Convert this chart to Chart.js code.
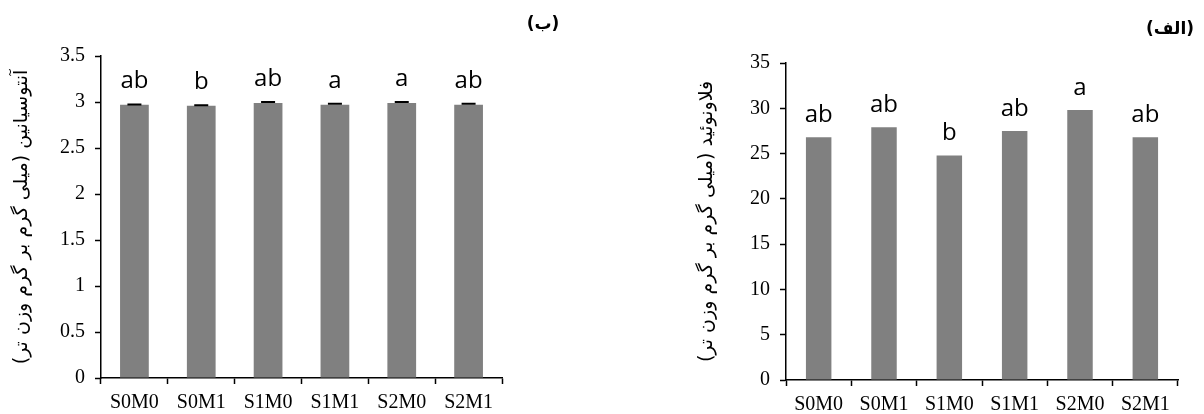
<!DOCTYPE html>
<html lang="fa">
<head>
    <meta charset="UTF-8">
    <title>Anthocyanin and flavonoid bar charts</title>
    <script src="https://cdn.jsdelivr.net/npm/chart.js"></script>
    <style>
        body { margin: 0; background: #fff; }
        .panel {
            position: absolute;
            top: 0;
            width: 602px;
            height: 414px;
        }
        #left { left: 0; }
        #right { left: 602px; }
    </style>
</head>
<body>
    <div class="panel" id="left"><canvas id="chartB"></canvas></div>
    <div class="panel" id="right"><canvas id="chartA"></canvas></div>

    <script>
        // treatments, shared by both panels
        const categories = ['S0M0', 'S0M1', 'S1M0', 'S1M1', 'S2M0', 'S2M1'];

        // panel (ب): anthocyanin
        const anthocyanin = [2.97, 2.96, 2.99, 2.97, 2.99, 2.97];
        const anthocyaninErr = [0.003, 0.005, 0.01, 0.01, 0.01, 0.01];
        const anthocyaninLetters = ['ab', 'b', 'ab', 'a', 'a', 'ab'];
        const anthocyaninTicks = [0, 0.5, 1, 1.5, 2, 2.5, 3, 3.5];

        // panel (الف): flavonoid
        const flavonoid = [26.8, 27.9, 24.8, 27.5, 29.8, 26.8];
        const flavonoidLetters = ['ab', 'ab', 'b', 'ab', 'a', 'ab'];
        const flavonoidTicks = [0, 5, 10, 15, 20, 25, 30, 35];

        const RLM = '\u200F';

        // error bars + significance letters above each bar
        const barExtras = {
            id: 'barExtras',
            afterDatasetsDraw(chart, args, opts) {
                const ctx = chart.ctx;
                const y = chart.scales.y;
                const meta = chart.getDatasetMeta(0);
                const values = chart.data.datasets[0].data;
                ctx.save();
                meta.data.forEach((bar, i) => {
                    let top = bar.y;
                    if (opts.errors) {
                        const e = opts.errors[i];
                        const yTop = y.getPixelForValue(values[i] + e);
                        ctx.strokeStyle = '#000';
                        ctx.lineWidth = 2;
                        ctx.beginPath();
                        ctx.moveTo(bar.x, bar.y);
                        ctx.lineTo(bar.x, yTop);
                        ctx.moveTo(bar.x - 7, yTop);
                        ctx.lineTo(bar.x + 7, yTop);
                        ctx.stroke();
                        top = Math.min(top, yTop);
                    }
                    ctx.fillStyle = '#000';
                    ctx.font = opts.font;
                    ctx.textAlign = 'center';
                    ctx.textBaseline = 'alphabetic';
                    ctx.fillText(opts.letters[i], bar.x, top - opts.gap);
                });
                ctx.restore();
            }
        };

        const panelLabel = {
            id: 'panelLabel',
            afterDraw(chart, args, opts) {
                const ctx = chart.ctx;
                ctx.save();
                ctx.fillStyle = '#000';
                ctx.font = 'bold 17px "DejaVu Sans"';
                ctx.textAlign = 'center';
                ctx.textBaseline = 'middle';
                ctx.fillText(opts.text, opts.x, opts.y);
                ctx.restore();
            }
        };

        function makeChart(id, cfg) {
            const ctx = document.getElementById(id).getContext('2d');
            return new Chart(ctx, {
                type: 'bar',
                data: {
                    labels: categories,
                    datasets: [{
                        data: cfg.values,
                        backgroundColor: '#808080',
                        borderWidth: 0,
                        categoryPercentage: 1,
                        barPercentage: cfg.barPct
                    }]
                },
                options: {
                    responsive: true,
                    maintainAspectRatio: false,
                    animation: false,
                    layout: { padding: cfg.padding },
                    scales: {
                        x: {
                            grid: {
                                display: true,
                                drawOnChartArea: false,
                                drawTicks: true,
                                tickLength: 6,
                                tickWidth: 1.5,
                                color: '#000'
                            },
                            border: { display: true, color: '#000', width: 1.5 },
                            ticks: {
                                color: '#000',
                                padding: 7,
                                font: { family: '"Liberation Serif"', size: 20 }
                            },
                            afterFit: s => { s.height = 414 - cfg.padding.top - cfg.plotHeight; }
                        },
                        y: {
                            min: 0,
                            max: cfg.ticks[cfg.ticks.length - 1],
                            afterBuildTicks: s => { s.ticks = cfg.ticks.map(v => ({ value: v })); },
                            grid: {
                                display: true,
                                drawOnChartArea: false,
                                drawTicks: true,
                                tickLength: 6,
                                tickWidth: 1.5,
                                color: '#000'
                            },
                            border: { display: true, color: '#000', width: 1.5 },
                            ticks: {
                                color: '#000',
                                padding: 10,
                                font: { family: '"Liberation Serif"', size: 20 },
                                callback: v => String(v)
                            },
                            title: {
                                display: true,
                                text: cfg.title + RLM,
                                color: '#000',
                                padding: { top: cfg.titlePad, bottom: 0 },
                                font: { family: '"DejaVu Sans"', size: 19 }
                            },
                            afterFit: s => { s.width = cfg.axisWidth; }
                        }
                    },
                    plugins: {
                        legend: { display: false },
                        tooltip: { enabled: false },
                        barExtras: {
                            letters: cfg.letters,
                            errors: cfg.errors,
                            gap: cfg.gap,
                            font: '24px "Open Sans"'
                        },
                        panelLabel: cfg.label
                    }
                },
                plugins: [barExtras, panelLabel]
            });
        }

        makeChart('chartB', {
            values: anthocyanin,
            errors: anthocyaninErr,
            letters: anthocyaninLetters,
            ticks: anthocyaninTicks,
            title: 'آنتوسیانین (میلی گرم بر گرم وزن تر)',
            barPct: 0.43,
            padding: { top: 56, right: 100, bottom: 0, left: 0 },
            plotHeight: 322,
            axisWidth: 101,
            titlePad: 11,
            gap: 16,
            label: { text: '(ب)', x: 543, y: 25 }
        });

        makeChart('chartA', {
            values: flavonoid,
            errors: null,
            letters: flavonoidLetters,
            ticks: flavonoidTicks,
            title: 'فلاونوئید (میلی گرم بر گرم وزن تر)',
            barPct: 0.39,
            padding: { top: 63, right: 26, bottom: 0, left: 0 },
            plotHeight: 317,
            axisWidth: 184,
            titlePad: 94,
            gap: 15,
            label: { text: '(الف)', x: 568, y: 30 }
        });
    </script>
</body>
</html>
